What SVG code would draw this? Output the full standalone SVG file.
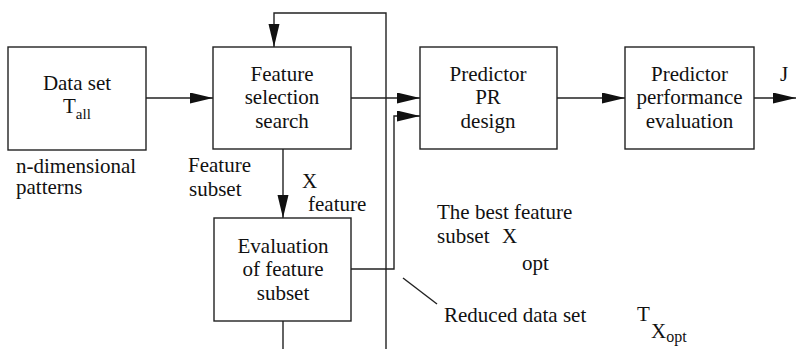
<svg xmlns="http://www.w3.org/2000/svg" width="796" height="349" viewBox="0 0 796 349">
<style>
.box{fill:#fff;stroke:#222;stroke-width:1.4}
.ln{fill:none;stroke:#222;stroke-width:1.4}
text{font-family:"Liberation Serif","Times New Roman",serif;font-size:21px;fill:#111}
.c{text-anchor:middle}
</style>
<defs>
<marker id="ah" markerUnits="userSpaceOnUse" markerWidth="24" markerHeight="12" refX="23" refY="5.5" orient="auto">
<path d="M0,0 L23,5.5 L0,11 z" fill="#111"/>
</marker>
</defs>
<g id="connectors">
<path class="ln" d="M146 98 H213" marker-end="url(#ah)"/>
<path class="ln" d="M351 98 H420" marker-end="url(#ah)"/>
<path class="ln" d="M557 98 H625" marker-end="url(#ah)"/>
<path class="ln" d="M754 98 H796" marker-end="url(#ah)"/>
<path class="ln" d="M386 349 V13 H274 V47" marker-end="url(#ah)"/>
<path class="ln" d="M283 149 V218" marker-end="url(#ah)"/>
<path class="ln" d="M351 269 H394 V116 H420" marker-end="url(#ah)"/>
<path class="ln" d="M283 321 V349"/>
<path class="ln" d="M403 278 L437 304"/>
</g>
<g id="dataset">
<rect class="box" x="8" y="47" width="138" height="103"/>
<text class="c" x="77" y="90">Data set</text>
<text x="63" y="113">T<tspan font-size="15" dy="6">all</tspan></text>
</g>
<g id="fss">
<rect class="box" x="213" y="47" width="138" height="102"/>
<text class="c" x="282" y="81">Feature</text>
<text class="c" x="282" y="104">selection</text>
<text class="c" x="282" y="128">search</text>
</g>
<g id="predictor">
<rect class="box" x="420" y="47" width="137" height="102"/>
<text class="c" x="488" y="81">Predictor</text>
<text class="c" x="488" y="104">PR</text>
<text class="c" x="488" y="128">design</text>
</g>
<g id="perf">
<rect class="box" x="625" y="47" width="129" height="102"/>
<text class="c" x="689.5" y="81">Predictor</text>
<text class="c" x="689.5" y="104">performance</text>
<text class="c" x="689.5" y="128">evaluation</text>
</g>
<g id="eval">
<rect class="box" x="214" y="218" width="137" height="103"/>
<text class="c" x="283" y="253">Evaluation</text>
<text class="c" x="283" y="276">of feature</text>
<text class="c" x="283" y="300">subset</text>
</g>
<g id="labels">
<text x="780" y="81">J</text>
<text x="16" y="173">n-dimensional</text>
<text x="16" y="194">patterns</text>
<text x="188" y="172">Feature</text>
<text x="189" y="196">subset</text>
<text x="302" y="188">X</text>
<text x="308" y="211">feature</text>
<text x="437" y="219">The best feature</text>
<text x="437" y="243">subset</text>
<text x="502" y="243">X</text>
<text x="522" y="270">opt</text>
<text x="444" y="322">Reduced data set</text>
<text x="637" y="321" font-size="18">T</text>
<text x="651" y="338" font-size="18">X<tspan font-size="16" dy="4">opt</tspan></text>
</g>
</svg>
